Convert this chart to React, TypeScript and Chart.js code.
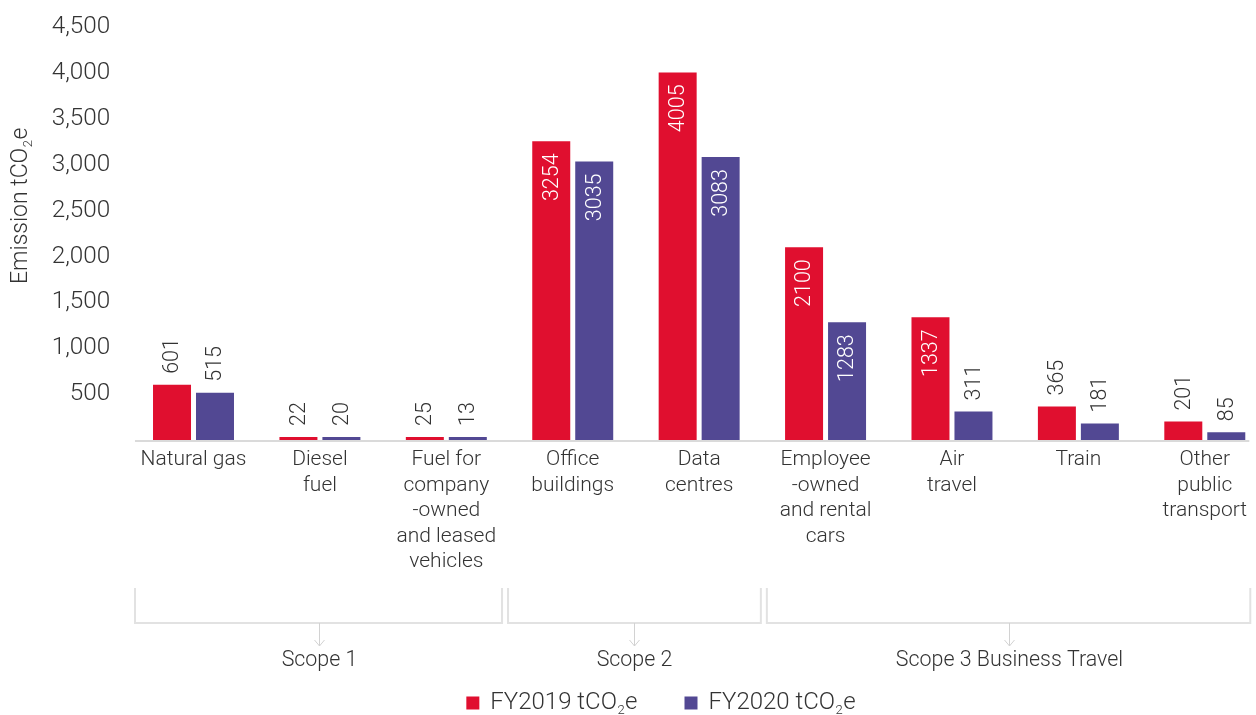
import React, { useEffect, useRef } from "react";
import { Chart, registerables } from "chart.js";

Chart.register(...registerables);

// ---------- data ----------
const categories: string[][] = [
  ["Natural gas"],
  ["Diesel", "fuel"],
  ["Fuel for", "company", "-owned", "and leased", "vehicles"],
  ["Office", "buildings"],
  ["Data", "centres"],
  ["Employee", "-owned", "and rental", "cars"],
  ["Air", "travel"],
  ["Train"],
  ["Other", "public", "transport"],
];
const fy2019Values = [601, 22, 25, 3254, 4005, 2100, 1337, 365, 201];
const fy2020Values = [515, 20, 13, 3035, 3083, 1283, 311, 181, 85];
const seriesLabels = ["FY2019 tCO₂e", "FY2020 tCO₂e"];
const seriesColors = ["#E00F2F", "#524893"];
const yAxisTitle = "Emission tCO₂e";
const yMin = 0;
const yMax = 4500;
const yStep = 500;
const scopeNames = ["Scope 1", "Scope 2", "Scope 3 Business Travel"];
const scopeFirstCategory = [0, 3, 5];
const scopeLastCategory = [2, 4, 8];
const insideLabelThreshold = 1000;

// ---------- style ----------
const FONT = "Roboto, 'Liberation Sans', Arial, sans-serif";
const TEXT = "#333333";
const CANVAS_W = 1290;
const CANVAS_H = 715;
const VISIBLE_W = 1256;
const bracketLeftOffset = [0, -1.5, 4.5];
const bracketRightOffset = [-7.5, -1.5, 0];

function drawSubText(
  ctx: CanvasRenderingContext2D,
  text: string,
  x: number,
  y: number,
  size: number,
  weight: number
) {
  // draws text left-aligned, middle baseline, rendering "₂" as a small lowered 2
  const parts = text.split("₂");
  let cx = x;
  parts.forEach((p, i) => {
    ctx.font = `${weight} ${size}px ${FONT}`;
    ctx.fillText(p, cx, y);
    cx += ctx.measureText(p).width;
    if (i < parts.length - 1) {
      const s = Math.round(size * 0.55);
      ctx.font = `${weight} ${s}px ${FONT}`;
      ctx.fillText("2", cx + 0.5, y + size * 0.32);
      cx += ctx.measureText("2").width + 1;
    }
  });
  return cx - x;
}

function measureSubText(ctx: CanvasRenderingContext2D, text: string, size: number, weight: number) {
  const parts = text.split("₂");
  let w = 0;
  parts.forEach((p, i) => {
    ctx.font = `${weight} ${size}px ${FONT}`;
    w += ctx.measureText(p).width;
    if (i < parts.length - 1) {
      ctx.font = `${weight} ${Math.round(size * 0.55)}px ${FONT}`;
      w += ctx.measureText("2").width + 1;
    }
  });
  return w;
}

const overlayPlugin = {
  id: "overlay",
  afterDatasetsDraw(chart: any) {
    const ctx: CanvasRenderingContext2D = chart.ctx;
    // value labels
    chart.data.datasets.forEach((ds: any, di: number) => {
      const meta = chart.getDatasetMeta(di);
      meta.data.forEach((bar: any, i: number) => {
        const v = ds.data[i] as number;
        ctx.save();
        ctx.translate(bar.x, bar.y);
        ctx.rotate(-Math.PI / 2);
        ctx.font = `300 21.5px ${FONT}`;
        ctx.textBaseline = "middle";
        if (v >= insideLabelThreshold) {
          ctx.fillStyle = "#FFFFFF";
          ctx.textAlign = "right";
          ctx.fillText(String(v), -12, 1);
        } else {
          ctx.fillStyle = TEXT;
          ctx.textAlign = "left";
          ctx.fillText(String(v), 11, 1);
        }
        ctx.restore();
      });
    });
  },
  afterDraw(chart: any) {
    const ctx: CanvasRenderingContext2D = chart.ctx;
    const xs = chart.scales.x;
    const area = chart.chartArea;
    const catW = xs.getPixelForValue(1) - xs.getPixelForValue(0);
    const firstC = xs.getPixelForValue(0);
    const lastC = xs.getPixelForValue(categories.length - 1);
    const axisLeft = firstC - catW * 0.463;
    const axisRight = Math.min(lastC + catW * 0.352, VISIBLE_W - 6);

    ctx.save();
    // x axis line
    ctx.strokeStyle = "#DADADA";
    ctx.lineWidth = 2;
    ctx.beginPath();
    ctx.moveTo(axisLeft, area.bottom + 1);
    ctx.lineTo(axisRight, area.bottom + 1);
    ctx.stroke();

    // y axis title
    ctx.save();
    ctx.translate(21, 284);
    ctx.rotate(-Math.PI / 2);
    ctx.fillStyle = TEXT;
    ctx.textAlign = "left";
    ctx.textBaseline = "middle";
    drawSubText(ctx, yAxisTitle, 0, 0, 23, 300);
    ctx.restore();

    // scope brackets
    const bTop = 588;
    const bBot = 623;
    scopeNames.forEach((name, si) => {
      const f = scopeFirstCategory[si];
      const l = scopeLastCategory[si];
      const left =
        si === 0 ? axisLeft : xs.getPixelForValue(f) - catW / 2 + bracketLeftOffset[si];
      const right =
        si === scopeNames.length - 1
          ? axisRight + 1
          : xs.getPixelForValue(l) + catW / 2 + bracketRightOffset[si];
      ctx.strokeStyle = "#E2E2E2";
      ctx.lineWidth = 2;
      ctx.beginPath();
      ctx.moveTo(left, bTop);
      ctx.lineTo(left, bBot);
      ctx.lineTo(right, bBot);
      ctx.lineTo(right, bTop);
      ctx.stroke();
      const cx = Math.round((left + right) / 2) + 0.5;
      ctx.strokeStyle = "#D2D2D2";
      ctx.lineWidth = 1;
      ctx.beginPath();
      ctx.moveTo(cx, bBot);
      ctx.lineTo(cx, bBot + 23);
      ctx.moveTo(cx - 5, bBot + 17);
      ctx.lineTo(cx, bBot + 23);
      ctx.lineTo(cx + 5, bBot + 17);
      ctx.stroke();
      ctx.fillStyle = TEXT;
      ctx.font = `300 21.4px ${FONT}`;
      ctx.textAlign = "center";
      ctx.textBaseline = "middle";
      ctx.fillText(name, cx, 661);
    });

    // legend
    const box = 13;
    const gapBoxText = 11;
    const gapItems = 47;
    const lsize = 24;
    const widths = chart.data.datasets.map(
      (ds: any) => box + gapBoxText + measureSubText(ctx, ds.label, lsize, 300)
    );
    const total = widths.reduce((a: number, b: number) => a + b, 0) + gapItems * (widths.length - 1);
    let lx = 661 - total / 2;
    const ly = 703;
    chart.data.datasets.forEach((ds: any, i: number) => {
      ctx.fillStyle = ds.backgroundColor;
      ctx.fillRect(lx, ly - box / 2, box, box);
      ctx.fillStyle = TEXT;
      ctx.textAlign = "left";
      ctx.textBaseline = "middle";
      drawSubText(ctx, ds.label, lx + box + gapBoxText, ly, lsize, 300);
      lx += widths[i] + gapItems;
    });
    ctx.restore();
  },
};

export default function App() {
  const canvasRef = useRef<HTMLCanvasElement | null>(null);

  useEffect(() => {
    if (!canvasRef.current) return;
    const chart = new Chart(canvasRef.current, {
      type: "bar",
      data: {
        labels: categories,
        datasets: [fy2019Values, fy2020Values].map((vals, i) => ({
          label: seriesLabels[i],
          data: vals,
          backgroundColor: seriesColors[i],
          borderWidth: 0,
          categoryPercentage: 0.68,
          barPercentage: 0.884,
          minBarLength: 3,
        })),
      },
      options: {
        responsive: false,
        animation: false,
        devicePixelRatio: 1,
        layout: { padding: { top: 27, right: CANVAS_W - 1268, bottom: 0, left: 0 } },
        plugins: {
          legend: { display: false },
          tooltip: { enabled: false },
        },
        scales: {
          x: {
            grid: { display: false, drawTicks: false },
            border: { display: false },
            ticks: {
              color: TEXT,
              font: { family: FONT, size: 21, weight: 300 as any, lineHeight: 1.215 },
              padding: 7,
              maxRotation: 0,
              minRotation: 0,
              autoSkip: false,
            },
            afterFit: (s: any) => {
              s.height = CANVAS_H - 440;
            },
          },
          y: {
            min: yMin,
            max: yMax,
            grid: { display: false, drawTicks: true, tickLength: 20 },
            border: { display: false },
            ticks: {
              stepSize: yStep,
              color: TEXT,
              font: { family: FONT, size: 24.3, weight: 300 as any },
              padding: 0,
              callback: (v: any) => (Number(v) === 0 ? "" : Number(v).toLocaleString("en-US")),
            },
            afterFit: (s: any) => {
              s.width = 130.3;
            },
          },
        },
      },
      plugins: [overlayPlugin],
    });
    return () => chart.destroy();
  }, []);

  return (
    <div
      style={{
        position: "absolute",
        left: 0,
        top: 0,
        width: VISIBLE_W,
        height: CANVAS_H,
        overflow: "hidden",
        background: "#fff",
      }}
    >
      <canvas ref={canvasRef} width={CANVAS_W} height={CANVAS_H} style={{ display: "block" }} />
    </div>
  );
}
